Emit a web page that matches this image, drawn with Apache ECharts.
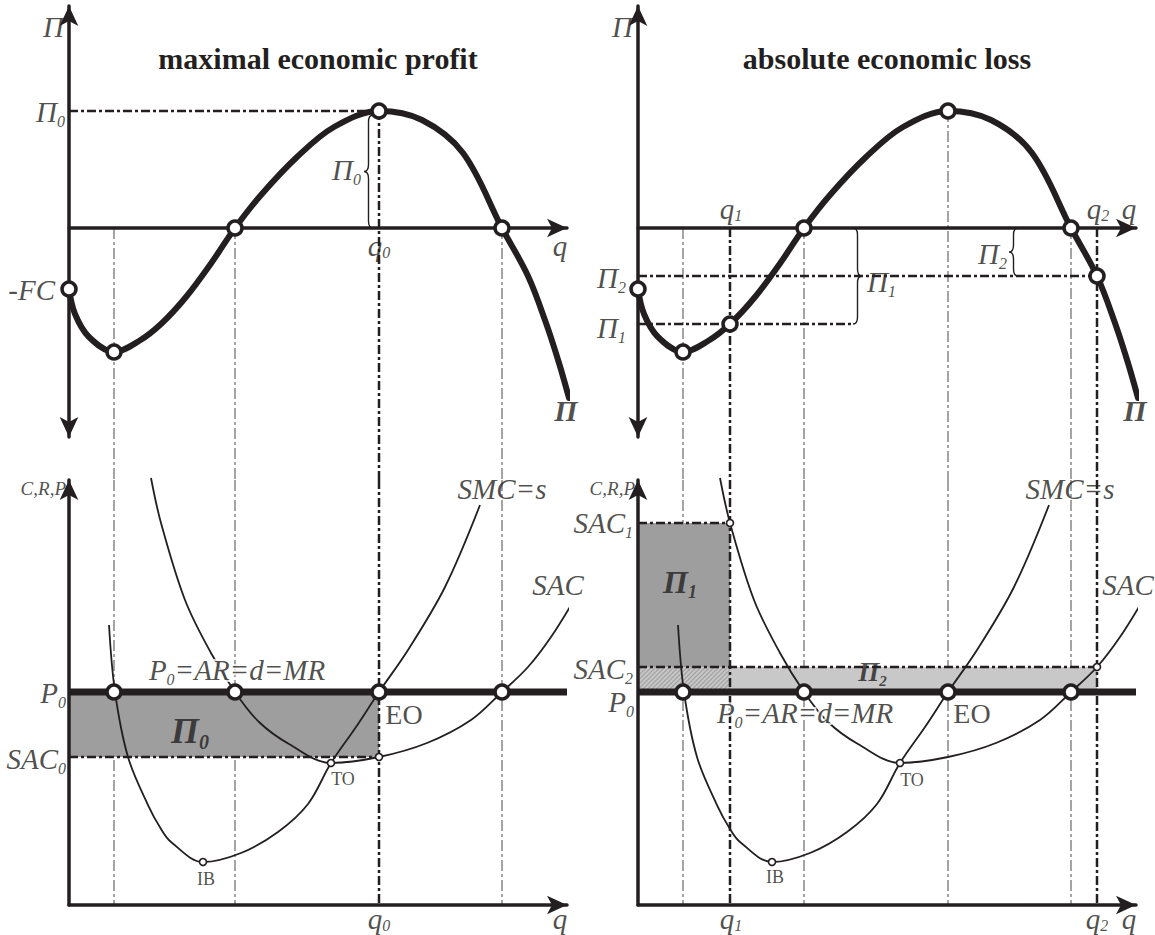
<!DOCTYPE html>
<html>
<head>
<meta charset="utf-8">
<script src="https://cdn.jsdelivr.net/npm/echarts@6/dist/echarts.min.js"></script>
<style>
  html, body { margin: 0; padding: 0; background: #fff; }
  #chart { width: 1155px; height: 935px; }
</style>
</head>
<body>
<div id="chart"></div>
<script>
// ---------- values (q on the horizontal axis; Π, C, R, P on the vertical) ----------
// profit function Π(q)
const profitCurve = [[0,-6.1],[0.6,-8.6],[2.0,-10.9],[4.5,-12.4],[7.0,-11.3],[9.2,-9.6],[11.7,-6.9],
  [14.3,-3.4],[16.6,0],[19.2,3.3],[22.8,7.1],[26.5,10.1],[31.0,11.7],[35.3,10.8],[39.4,7.5],
  [43.3,0],[45.9,-4.8],[47.7,-9.5],[49.0,-13.5],[50.0,-17.0]];
// short-run marginal cost (= supply) and short-run average cost
const smcCurve = [[4.0,28.0],[4.6,21.3],[5.9,14.8],[7.9,10.0],[9.2,7.6],[10.2,6.3],[13.4,4.3],
  [17.2,5.2],[20.9,7.3],[23.9,10.1],[26.2,14.2],[28.7,17.8],[31.0,21.3],[33.9,25.5],[37.6,31.8],[41.1,40.0]];
const sacCurve = [[8.2,42.7],[9.2,38.2],[11.6,30.5],[14.2,25.2],[16.6,21.3],[19.0,18.3],[22.0,16.1],
  [26.2,14.2],[31.0,14.8],[35.8,16.2],[40.2,18.5],[43.3,21.3],[45.9,23.8],[48.2,26.8],[50.5,30.5]];

const qKey = [4.5, 16.6, 31.0, 43.3];        // Π minimum, break-even, Π maximum (q0), break-even
const profitAtKey = [-12.4, 0, 11.7, 0];
const fixedCost = 6.1;                        // Π(0) = -FC
const priceP0 = 21.3;                         // P0 = AR = d = MR
const sac0 = 14.8;                            // SAC at q0
const qLoss = [9.2, 45.9];                    // q1, q2
const profitLoss = [-9.6, -4.8];              // Π1, Π2
const sacLoss = [38.2, 23.8];                 // SAC1, SAC2
const pointTO = [26.2, 14.2];
const pointIB = [13.4, 4.3];

// ---------- layout ----------
const SERIF = "'Liberation Serif', 'DejaVu Serif', serif";
const INK = '#231f20';
const GUIDE = '#a4a4a4';
const FILL_DARK = '#9e9e9e';
const FILL_LIGHT = '#c8c8c8';
const HATCH = '#a2a2a2';

const Q_MAX = 49.8;
const PI_MIN = -20.9, PI_MAX = 22.2;
const C_MAX = 42.5;
const LEFTS = [69, 638];
const PANEL_W = 498;
const TOP_T = 6, TOP_H = 431;
const BOT_T = 480, BOT_H = 425;
// value on the Π scale where a guide leaving the upper panel meets the lower panel
const PI_LINK = PI_MIN - (BOT_T - (TOP_T + TOP_H)) * (PI_MAX - PI_MIN) / TOP_H;

const q0 = qKey[2];
const profitMax = profitAtKey[2];

const grids = [
  { left: LEFTS[0], top: TOP_T, width: PANEL_W, height: TOP_H },
  { left: LEFTS[1], top: TOP_T, width: PANEL_W, height: TOP_H },
  { left: LEFTS[0], top: BOT_T, width: PANEL_W, height: BOT_H },
  { left: LEFTS[1], top: BOT_T, width: PANEL_W, height: BOT_H }
];

const axisLine = (symbol) => ({
  onZero: true, symbol, symbolSize: [14, 20],
  lineStyle: { color: INK, width: 3.5 }
});
const bare = { axisTick: { show: false }, axisLabel: { show: false }, splitLine: { show: false } };

const xAxes = grids.map((g, i) => Object.assign({
  gridIndex: i, type: 'value', min: 0, max: Q_MAX, z: 8, axisLine: axisLine(['none', 'arrow'])
}, bare));
const yAxes = grids.map((g, i) => Object.assign({
  gridIndex: i, type: 'value', z: 8,
  min: i < 2 ? PI_MIN : 0, max: i < 2 ? PI_MAX : C_MAX,
  axisLine: axisLine(i < 2 ? ['arrow', 'arrow'] : ['none', 'arrow'])
}, bare));

// ---------- series helpers ----------
const GRAY_DASH = { color: GUIDE, width: 2, type: [11, 3, 3, 3] };
const BLACK_DASH = { color: INK, width: 2.5, type: [9, 3, 3, 3] };

function line(g, data, style, z, extra) {
  return Object.assign({
    type: 'line', xAxisIndex: g, yAxisIndex: g, data, symbol: 'none',
    silent: true, clip: false, z, lineStyle: style, animation: false
  }, extra || {});
}

function bands(g, rects, fill, hatched, z) {
  return {
    type: 'custom', xAxisIndex: g, yAxisIndex: g, z, silent: true, data: rects,
    renderItem(params, api) {
      const a = api.coord([api.value(0), api.value(3)]);
      const b = api.coord([api.value(1), api.value(2)]);
      const x = a[0], y = a[1], w = b[0] - a[0], h = b[1] - a[1];
      const children = [{ type: 'rect', shape: { x, y, width: w, height: h }, style: { fill } }];
      if (hatched) {
        for (let k = -h; k < w; k += 4.5) {
          let sx = x + k, sy = y + h, ex = x + k + h, ey = y;
          if (sx < x) { sy -= (x - sx); sx = x; }
          if (ex > x + w) { ey += ex - (x + w); ex = x + w; }
          if (ex > sx) children.push({ type: 'line', shape: { x1: sx, y1: sy, x2: ex, y2: ey },
            style: { stroke: HATCH, lineWidth: 1.1 } });
        }
      }
      return { type: 'group', children };
    }
  };
}

function braces(g, items) {
  return {
    type: 'custom', xAxisIndex: g, yAxisIndex: g, z: 7, silent: true, clip: false, data: items,
    renderItem(params, api) {
      const t = api.coord([api.value(0), api.value(1)]);
      const b = api.coord([api.value(0), api.value(2)]);
      const dir = api.value(3);
      const x = t[0], y1 = t[1], y2 = b[1], ym = (y1 + y2) / 2;
      const w = 9 * dir, hx = x + w / 2, r = Math.min(7, (y2 - y1) / 4);
      const d = `M${x},${y1} Q${hx},${y1} ${hx},${y1 + r} L${hx},${ym - r} Q${hx},${ym} ${x + w},${ym} ` +
                `Q${hx},${ym} ${hx},${ym + r} L${hx},${y2 - r} Q${hx},${y2} ${x},${y2}`;
      return { type: 'path', shape: { pathData: d }, style: { stroke: INK, fill: null, lineWidth: 1.4 } };
    }
  };
}

function dots(g, pts, size, border, z) {
  return {
    type: 'scatter', xAxisIndex: g, yAxisIndex: g, z, silent: true, clip: false, animation: false,
    symbol: 'circle', symbolSize: size, data: pts,
    itemStyle: { color: '#fff', borderColor: INK, borderWidth: border, opacity: 1 }
  };
}

// rich text styles: main size m, subscript below the baseline
function richSet(name, size, opts, lh) {
  const base = Object.assign({ fontFamily: SERIF, color: INK, fontSize: size, lineHeight: lh || size + 6 }, opts);
  const sub = Object.assign({}, base, { fontSize: Math.round(size * 0.55), lineHeight: Math.round(size * 0.55),
    verticalAlign: 'bottom' });
  return { [name]: base, [name + 's']: sub };
}
const rich = Object.assign({},
  richSet('i', 29, { fontStyle: 'italic' }),
  richSet('j', 29, { fontStyle: 'italic' }, 28),
  richSet('h', 29, { fontStyle: 'italic', textBorderColor: '#fff', textBorderWidth: 4 }),
  richSet('b', 36, { fontStyle: 'italic', fontWeight: 'bold' }),
  richSet('m', 32, { fontStyle: 'italic', fontWeight: 'bold' }),
  richSet('n', 27, { fontStyle: 'italic', fontWeight: 'bold' }),
  richSet('k', 30, { fontStyle: 'italic', fontWeight: 'bold' }),
  { u: { fontFamily: SERIF, color: INK, fontSize: 28 },
    t: { fontFamily: SERIF, color: INK, fontSize: 18 },
    c: { fontFamily: SERIF, color: INK, fontSize: 19, fontStyle: 'italic' } }
);

// annotation texts anchored on the value scales: [text, [q, value], align, dx, dy]
function notes(g, list) {
  return {
    type: 'scatter', xAxisIndex: g, yAxisIndex: g, z: 12, silent: true, clip: false, animation: false,
    symbolSize: 1, itemStyle: { color: 'rgba(0,0,0,0)' },
    data: list.map(([text, at, align, dx, dy]) => ({
      value: at,
      label: { show: true, position: 'inside', formatter: text, align, verticalAlign: 'middle',
               offset: [dx, dy], rich }
    }))
  };
}

// ---------- series ----------
const series = [];
const braceQ = { left: 30.4, lossBig: 21.5, lossSmall: 38.0 };

// guides crossing both panels of each column
[0, 1].forEach(col => {
  const top = col, bot = col + 2;
  const grayQ = col === 0 ? [qKey[0], qKey[1], qKey[3]] : qKey;
  grayQ.forEach(q => {
    const start = (col === 1 && q === q0) ? profitMax : 0;
    series.push(line(top, [[q, start], [q, PI_LINK]], GRAY_DASH, 1));
    series.push(line(bot, [[q, C_MAX], [q, 0]], GRAY_DASH, 1));
  });
  const blackQ = col === 0 ? [q0] : qLoss;
  blackQ.forEach(q => {
    const start = col === 0 ? profitMax : 0;
    series.push(line(top, [[q, start], [q, PI_LINK]], BLACK_DASH, 4));
    series.push(line(bot, [[q, C_MAX], [q, 0]], BLACK_DASH, 4));
  });
});

// horizontal guides
series.push(line(0, [[0, profitMax], [q0, profitMax]], BLACK_DASH, 4));
series.push(line(1, [[0, profitLoss[1]], [qLoss[1], profitLoss[1]]], BLACK_DASH, 4));
series.push(line(1, [[0, profitLoss[0]], [braceQ.lossBig, profitLoss[0]]], BLACK_DASH, 4));
series.push(line(2, [[0, sac0], [q0, sac0]], BLACK_DASH, 4));
series.push(line(3, [[0, sacLoss[0]], [qLoss[0], sacLoss[0]]], BLACK_DASH, 4));
series.push(line(3, [[0, sacLoss[1]], [qLoss[1], sacLoss[1]]], BLACK_DASH, 4));

// profit / loss areas
series.push(bands(2, [[0, q0, sac0, priceP0]], FILL_DARK, false, 2));
series.push(bands(3, [[0, qLoss[0], sacLoss[1], sacLoss[0]]], FILL_DARK, false, 2));
series.push(bands(3, [[qLoss[0], qLoss[1], priceP0, sacLoss[1]]], FILL_LIGHT, false, 2));
series.push(bands(3, [[0, qLoss[0], priceP0, sacLoss[1]]], FILL_LIGHT, true, 2));

// curves
[0, 1].forEach(g => series.push(line(g, profitCurve, { color: INK, width: 6, cap: 'round' }, 5, { smooth: 0.35 })));
[2, 3].forEach(g => {
  series.push(line(g, smcCurve, { color: INK, width: 1.8 }, 5, { smooth: 0.35 }));
  series.push(line(g, sacCurve, { color: INK, width: 1.8 }, 5, { smooth: 0.35 }));
  series.push(line(g, [[0, priceP0], [Q_MAX, priceP0]], { color: INK, width: 7 }, 9));
});

// braces marking Π0, Π1, Π2
series.push(braces(0, [[braceQ.left, profitMax - 0.4, 0, -1]]));
series.push(braces(1, [[braceQ.lossBig, 0, profitLoss[0], 1], [braceQ.lossSmall, 0, profitLoss[1], -1]]));

// points
const profitPts = [[0, -fixedCost]].concat(qKey.map((q, i) => [q, profitAtKey[i]]));
series.push(dots(0, profitPts, 14, 3.5, 10));
series.push(dots(1, profitPts.concat(qLoss.map((q, i) => [q, profitLoss[i]])), 14, 3.5, 10));
[2, 3].forEach(g => series.push(dots(g, qKey.map(q => [q, priceP0]), 14, 3.5, 10)));
series.push(dots(2, [pointTO, pointIB, [q0, sac0]], 7, 1.6, 10));
series.push(dots(3, [pointTO, pointIB, [qLoss[0], sacLoss[0]], [qLoss[1], sacLoss[1]]], 7, 1.6, 10));

// texts
const curveEnd = profitCurve[profitCurve.length - 1];
const smcEnd = smcCurve[smcCurve.length - 1];
const sacEnd = sacCurve[sacCurve.length - 1];
series.push(notes(0, [
  ['{i|Π}', [0, 20.1], 'right', -5, 0],
  ['{i|Π}{is|0}', [0, profitMax], 'right', -4, 1],
  ['{i|-FC}', [0, -fixedCost], 'right', -14, 1],
  ['{j|q}{js|0}', [q0, 0], 'center', 0, 18],
  ['{j|q}', [Q_MAX, 0], 'center', -7, 18],
  ['{i|Π}{is|0}', [braceQ.left, profitMax / 2], 'right', -12, 0],
  ['{k|Π}', curveEnd, 'center', -3, 12]
]));
series.push(notes(1, [
  ['{i|Π}', [0, 20.1], 'right', -5, 0],
  ['{j|q}{js|1}', [qLoss[0], 0], 'center', 1, -19],
  ['{j|q}{js|2}', [qLoss[1], 0], 'center', 1, -19],
  ['{j|q}', [Q_MAX, 0], 'center', -7, -19],
  ['{i|Π}{is|2}', [0, profitLoss[1]], 'right', -12, 2],
  ['{i|Π}{is|1}', [0, profitLoss[0]], 'right', -12, 4],
  ['{i|Π}{is|1}', [braceQ.lossBig, profitLoss[0] / 2], 'left', 14, 6],
  ['{i|Π}{is|2}', [braceQ.lossSmall, profitLoss[1] / 2], 'right', -11, 2],
  ['{k|Π}', curveEnd, 'center', -3, 12]
]));
series.push(notes(2, [
  ['{c|C,R,P}', [0, 41.7], 'right', -3, 0],
  ['{i|P}{is|0}', [0, priceP0], 'right', -3, 1],
  ['{i|SAC}{is|0}', [0, sac0], 'right', -3, 2],
  ['{h|P}{hs|0}{h|=AR=d=MR}', [qKey[1], priceP0], 'center', 2, -22],
  ['{i|SMC=s}', smcEnd, 'center', 22, -16],
  ['{i|SAC}', sacEnd, 'center', -16, -15],
  ['{u|EO}', [q0, priceP0], 'center', 25, 22],
  ['{t|TO}', pointTO, 'center', 12, 16],
  ['{t|IB}', pointIB, 'center', 3, 17],
  ['{j|q}{js|0}', [q0, 0], 'center', 0, 14],
  ['{j|q}', [Q_MAX, 0], 'center', -7, 14],
  ['{b|Π}{bs|0}', [q0 / 2, (sac0 + priceP0) / 2], 'center', -34, 6]
]));
series.push(notes(3, [
  ['{c|C,R,P}', [0, 41.7], 'right', -3, 0],
  ['{i|SAC}{is|1}', [0, sacLoss[0]], 'right', -5, 0],
  ['{i|SAC}{is|2}', [0, sacLoss[1]], 'right', -5, 2],
  ['{i|P}{is|0}', [0, priceP0], 'right', -4, 10],
  ['{i|SMC=s}', smcEnd, 'center', 21, -16],
  ['{i|SAC}', sacEnd, 'center', -15, -15],
  ['{h|P}{hs|0}{h|=AR=d=MR}', [qKey[1], priceP0], 'center', 1, 21],
  ['{u|EO}', [q0, priceP0], 'center', 24, 21],
  ['{t|TO}', pointTO, 'center', 12, 17],
  ['{t|IB}', pointIB, 'center', 3, 15],
  ['{j|q}{js|1}', [qLoss[0], 0], 'center', 1, 14],
  ['{j|q}{js|2}', [qLoss[1], 0], 'center', 0, 14],
  ['{j|q}', [Q_MAX, 0], 'center', -7, 14],
  ['{m|Π}{ms|1}', [qLoss[0] / 2, (sacLoss[0] + sacLoss[1]) / 2], 'center', -4, -13],
  ['{n|Π}{ns|2}', [qLoss[1] / 2, (sacLoss[1] + priceP0) / 2], 'center', 5, -8]
]));

const chart = echarts.init(document.getElementById('chart'), null, { renderer: 'svg' });
chart.setOption({
  animation: false,
  backgroundColor: '#fff',
  grid: grids,
  xAxis: xAxes,
  yAxis: yAxes,
  graphic: [
    { type: 'text', x: 318, y: 58, z: 20, style: { text: 'maximal economic profit', align: 'center',
      verticalAlign: 'middle', fontFamily: SERIF, fontWeight: 'bold', fontSize: 30, fill: INK } },
    { type: 'text', x: 887, y: 58, z: 20, style: { text: 'absolute economic loss', align: 'center',
      verticalAlign: 'middle', fontFamily: SERIF, fontWeight: 'bold', fontSize: 30, fill: INK } }
  ],
  series
});
</script>
</body>
</html>
